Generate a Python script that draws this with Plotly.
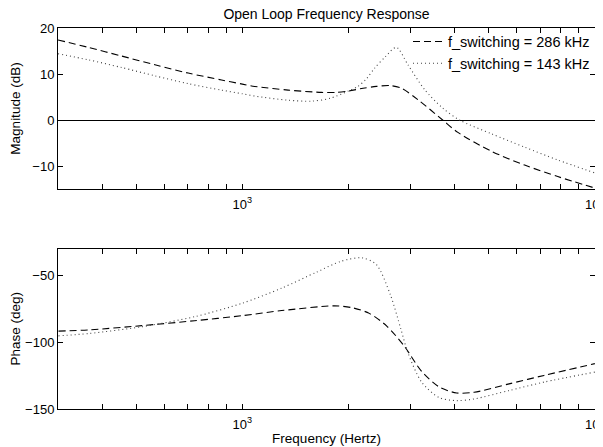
import math
import plotly.graph_objects as go

# ---------------- data ----------------
freq_mag_286 = [300, 365, 455, 565, 702, 873, 1000, 1085, 1349, 1677, 1850, 2000, 2200, 2400, 2618, 2828, 3151, 3700, 4087, 5090, 6320, 7850, 10000]
mag_286 = [17.4, 15.8, 13.9, 12.0, 10.2, 8.7, 7.8, 7.3, 6.5, 6.0, 6.0, 6.3, 6.9, 7.3, 7.5, 6.9, 4.4, 0.0, -2.7, -6.8, -9.8, -12.3, -14.8]

freq_mag_143 = [300, 365, 455, 565, 702, 873, 1000, 1085, 1349, 1571, 1770, 2000, 2128, 2245, 2375, 2548, 2735, 2950, 3290, 3700, 4130, 5090, 6320, 7850, 10000]
mag_143 = [14.4, 13.1, 11.4, 9.6, 7.9, 6.5, 5.7, 5.2, 4.3, 4.1, 4.7, 6.3, 7.3, 8.9, 11.3, 13.8, 15.8, 12.0, 6.6, 2.6, 0.0, -3.0, -5.9, -8.7, -11.5]

freq_ph_286 = [301, 369, 519, 732, 1000, 1294, 1823, 2043, 2292, 2569, 2880, 3228, 3618, 4055, 4544, 5710, 7170, 10000]
phase_286 = [-91.8, -90.8, -87.7, -84.0, -80.2, -76.4, -72.9, -74.2, -78.5, -88.0, -103.0, -122.0, -133.5, -138.0, -137.5, -131.2, -124.9, -116.1]

freq_ph_143 = [301, 369, 519, 732, 1000, 1294, 1626, 1907, 2190, 2400, 2630, 2815, 2950, 3228, 3618, 4055, 4544, 5710, 7170, 10000]
phase_143 = [-95.3, -93.5, -88.5, -81.0, -70.9, -59.6, -47.6, -39.5, -37.0, -42.0, -64.6, -90.0, -108.0, -130.0, -141.5, -143.7, -142.5, -136.2, -129.9, -122.4]

series_names = ["f_switching = 286 kHz", "f_switching = 143 kHz"]
x_major_vals = [1000, 10000]
x_major_text = ["10<sup>3</sup>", "10<sup>4</sup>"]
x_minor_vals = [400, 500, 600, 700, 800, 900, 2000, 3000, 4000, 5000, 6000, 7000, 8000, 9000]
freq_range = [300, 10000]
mag_range = [-15, 20]
phase_range = [-150, -30]

# ---------------- styles ----------------
FONT = "Liberation Sans, Arial, Helvetica, sans-serif"
dash_style = dict(color="black", width=1.1, dash="7px,4px", shape="spline", smoothing=0.8)
dot_style = dict(color="#444444", width=1.1, dash="1px,3px", shape="spline", smoothing=0.8)

fig = go.Figure()
fig.add_trace(go.Scatter(x=freq_mag_286, y=mag_286, mode="lines", name=series_names[0],
                         line=dash_style, xaxis="x", yaxis="y"))
fig.add_trace(go.Scatter(x=freq_mag_143, y=mag_143, mode="lines", name=series_names[1],
                         line=dot_style, xaxis="x", yaxis="y"))
fig.add_trace(go.Scatter(x=freq_ph_286, y=phase_286, mode="lines", name=series_names[0],
                         line=dash_style, xaxis="x2", yaxis="y2", showlegend=False))
fig.add_trace(go.Scatter(x=freq_ph_143, y=phase_143, mode="lines", name=series_names[1],
                         line=dot_style, xaxis="x2", yaxis="y2", showlegend=False))

# The page body adds an 8px offset at top/left; compensate so the plot lands where the reference has it.
OFF = 8
W, H = 603 - OFF, 447 - OFF
ml, mr, mt, mb = 58 - OFF, 8, 28 - OFF, 38
ph = H - mt - mb
top_bottom_px = 189 - OFF
bot_top_px = 248.5 - OFF
top_dom = [(H - mb - top_bottom_px) / ph, 1]
bot_dom = [0, (H - mb - bot_top_px) / ph]

xcommon = dict(type="log", range=[math.log10(freq_range[0]), math.log10(freq_range[1]) + 0.0004],
               tickmode="array", tickvals=x_major_vals, ticktext=x_major_text,
               ticks="inside", ticklen=5, tickcolor="black", showline=True, linecolor="black",
               linewidth=1, mirror="ticks", showgrid=False, zeroline=False,
               minor=dict(tickmode="array", tickvals=x_minor_vals, ticks="inside", ticklen=5,
                          tickcolor="black", showgrid=False),
               ticklabelstandoff=3, ticklabeloverflow="allow",
               tickfont=dict(family=FONT, size=13, color="black"), automargin=False)
ycommon = dict(ticks="inside", ticklen=5, tickcolor="black", showline=True, linecolor="black",
               linewidth=1, mirror="ticks", showgrid=False, tick0=0, dtick=10,
               tickfont=dict(family=FONT, size=13, color="black"), automargin=False)

fig.update_layout(
    width=W, height=H,
    margin=dict(l=ml, r=mr, t=mt, b=mb, pad=0),
    paper_bgcolor="white", plot_bgcolor="white",
    font=dict(family=FONT, size=13, color="black"),
    title=dict(text="Open Loop Frequency Response", x=0.5, xref="paper", xanchor="center",
               y=1 - 1 / H, yref="container", yanchor="top",
               font=dict(family=FONT, size=14, color="black")),
    xaxis=dict(domain=[0, 1], anchor="y", **xcommon),
    yaxis=dict(domain=top_dom, anchor="x", range=mag_range,
               zeroline=True, zerolinecolor="black", zerolinewidth=1,
               title=dict(text="Magnitude (dB)", font=dict(family=FONT, size=13.5), standoff=8),
               **ycommon),
    xaxis2=dict(domain=[0, 1], anchor="y2",
                title=dict(text="Frequency (Hertz)", font=dict(family=FONT, size=13.5), standoff=2),
                **xcommon),
    yaxis2=dict(domain=bot_dom, anchor="x2", range=phase_range, zeroline=False,
                title=dict(text="Phase (deg)", font=dict(family=FONT, size=13.5), standoff=6),
                **{**ycommon, "dtick": 50}),
    legend=dict(x=1.0, xanchor="right", y=1.0065, yanchor="top", bgcolor="rgba(0,0,0,0)",
                borderwidth=0, itemwidth=30, font=dict(family=FONT, size=14.5, color="black"),
                tracegroupgap=0),
    showlegend=True,
)

fig.write_html("out.html")
